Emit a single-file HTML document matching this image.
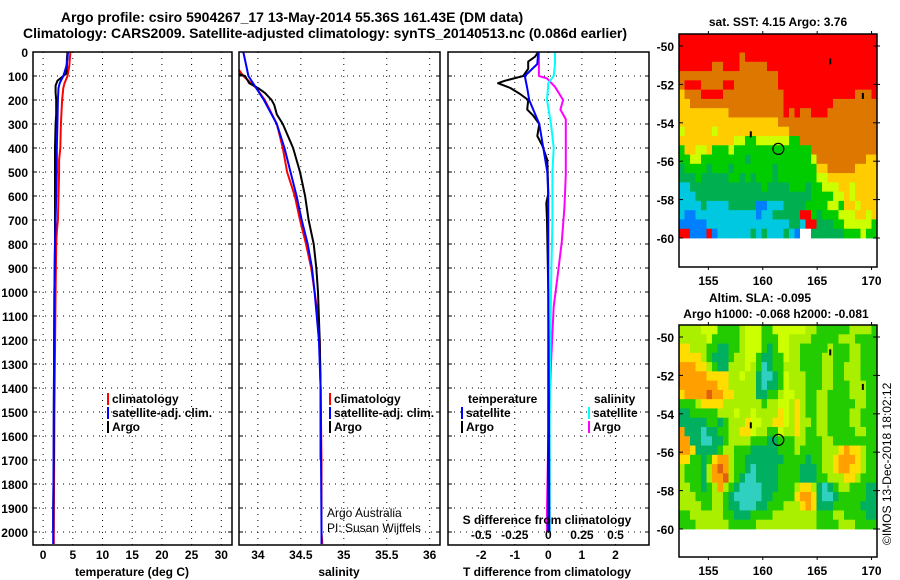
<!DOCTYPE html>
<html><head><meta charset="utf-8">
<style>
html,body{margin:0;padding:0;background:#fff;}
svg{display:block;font-family:"Liberation Sans",Arial,sans-serif;}
.b{font-weight:bold;font-size:12px;}
.t{font-weight:bold;font-size:14px;}
</style></head>
<body>
<svg id="fig" width="900" height="580" viewBox="0 0 900 580" xmlns="http://www.w3.org/2000/svg">
<rect width="900" height="580" fill="#fff"/>
<text class="t" x="292" y="22" text-anchor="middle">Argo profile: csiro 5904267_17 13-May-2014 55.36S 161.43E (DM data)</text>
<text class="t" x="325" y="38" text-anchor="middle" textLength="604">Climatology: CARS2009. Satellite-adjusted climatology: synTS_20140513.nc (0.086d earlier)</text>
<g id="panels"></g>
<g id="maps"></g>
<text x="891" y="545" font-size="12" transform="rotate(-90 891 545)">©IMOS 13-Dec-2018 18:02:12</text>
</svg>
<script>
// ---------- profile data ----------
const depthTicks = [0,100,200,300,400,500,600,700,800,900,1000,1100,1200,1300,1400,1500,1600,1700,1800,1900,2000];
const tempTicks = [0,5,10,15,20,25,30];
const salTicks = [34,34.5,35,35.5,36];
const salTickLabels = ["34","34.5","35","35.5","36"];
const tdiffTicks = [-2,-1,0,1,2];
const sdiffTicks = [-0.5,-0.25,0,0.25,0.5];
const sdiffTickLabels = ["-0.5","-0.25","0","0.25","0.5"];

const tClimDepth = [0,30,60,100,130,150,200,250,300,400,450,500,600,700,750,800,1000,1500,2000,2050];
const tClimVal   = [4.6,4.5,4.4,4.1,3.6,3.4,3.2,3.1,3.0,2.9,2.7,2.7,2.6,2.5,2.3,2.2,2.1,1.9,1.8,1.8];
const tSatDepth  = [0,30,60,100,130,150,200,300,400,500,600,700,800,1000,1500,2000,2050];
const tSatVal    = [4.2,4.1,3.9,3.4,2.8,2.6,2.5,2.4,2.3,2.3,2.2,2.1,2.0,1.9,1.8,1.7,1.7];
const tArgoDepth = [0,30,60,90,100,120,140,170,200,260,300,400,600,800,1000,1500,1700,1900,2000];
const tArgoVal   = [4.1,4.0,4.0,3.9,3.4,2.4,2.1,2.1,2.2,2.2,2.1,2.0,2.0,2.0,1.9,1.8,1.8,1.7,1.7];

const sClimDepth = [75,100,150,200,300,400,500,600,700,800,900,1000,1100,1200,1400,1700,2000,2050];
const sClimVal   = [33.78,33.83,33.98,34.08,34.22,34.29,34.34,34.43,34.49,34.56,34.62,34.66,34.70,34.72,34.73,34.74,34.74,34.75];
const sSatDepth  = [0,50,100,150,200,300,400,500,600,700,800,900,1000,1200,1400,2000,2050];
const sSatVal    = [33.83,33.86,33.89,33.98,34.07,34.22,34.31,34.38,34.45,34.51,34.58,34.63,34.66,34.71,34.73,34.74,34.74];
const sArgoDepth = [92,100,130,150,170,200,220,260,300,400,500,600,700,800,900,1000,1200,1400,1700];
const sArgoVal   = [33.78,33.85,33.90,34.00,34.08,34.16,34.19,34.22,34.29,34.41,34.49,34.55,34.59,34.65,34.68,34.70,34.72,34.73,34.73];

const dTArgoDepth = [0,20,40,70,100,120,130,150,175,200,240,265,300,350,390,450,590,630,700,1000,1500,2000];
const dTArgoVal   = [-0.3,-0.4,-0.6,-0.6,-0.75,-1.3,-1.5,-1.13,-0.84,-0.6,-0.63,-0.45,-0.27,-0.33,-0.18,-0.03,0.0,-0.06,-0.04,0.0,0.0,0.0];
const dTSatDepth  = [0,50,100,150,200,300,400,500,600,1000,1500,2000];
const dTSatVal    = [-0.3,-0.33,-0.7,-0.63,-0.57,-0.27,-0.15,-0.03,0.0,0.0,0.02,0.03];
const dSArgoDepth = [0,60,100,110,145,200,240,280,390,510,650,790,930,1060,1300,1600,1900,2000];
const dSArgoVal   = [-0.07,-0.07,-0.07,-0.01,0.05,0.11,0.09,0.13,0.13,0.13,0.12,0.10,0.07,0.04,0.02,0.0,-0.01,-0.01];
const dSSatDepth  = [0,50,100,130,200,300,400,500,700,1000,1500,2000];
const dSSatVal    = [0.05,0.05,0.04,0.0,-0.01,0.02,0.04,0.03,0.03,0.02,0.01,0.01];

// ---------- map data ----------
const sstRows = [
"RRRRRRRRRRRRRRRRRRRRRRRRRRRRRRRRRRRR",
"RRRRRRRRRRRRRRRRRRRRRRRRRRRRRRRRRRRR",
"RRRRRRRRRRRORRRRRRRRRRRRRRRRRRRRRRRR",
"RRRRRROORRROOOOORRRRRRRRRRRRRRRRRRRR",
"OOOOOOOOOOOOOOOOOORRRRRRRRRRRRRRRRRR",
"ORRROOOORROOOOOOOORRRRRRRRRRRRRRRRRR",
"YOOORRRROOOOOOOOOOORRRRRRRRRRRRROOOR",
"YYOOOOOOOOOOOOOOOOORRRRRRRRROOOOOOOO",
"YYYYYYYYYOOOOOOOOOOROROORRROOOOOOOOO",
"YYYYYYYYYYYYYYYYYYOOOOOOOOOOOOOOOOOO",
"LYYYYYLYYYYYYYYYYYYYOOOOOOOOOOOOOOOO",
"YYYYYYYYYYLLGGLLLLLLGGOOOOOOOOOOOOOO",
"GYYLLYGGGLGGGGGGGGGGGGGGOOOOOOOOOOOO",
"GGLLGGGGGGGGgGGGGGGGGGGGLOOOOOOOOOYY",
"gGGGGgGGGgGGGGGGGgGGGGGGGYYOOOOOYYYY",
"gggGgggggGGgGgGGGgGGGGGGGLLYYYYYYYYY",
"CCgggggggggggggGggggGGGgGGLLLYYLYYYY",
"CCCgggggggggggggggggggggGGGGLLYLYYYY",
"CCCCgCCCCgggggBBCCCggggGGGGLLGYYLYYY",
"CBBCCCCCCCCCCCBCCgggggRRGgGGGLLLYYLY",
"BBBBBCCCCCCCCCCCCCCCggCRRgggGGLLLLLG",
"RRBBBRBCCCCCCgCgCCCgCBWWggggggGGGLGG"];
const slaRows = [
"LLLLlllGGGGLlllGGllllllLLGGGGGGLLLLG",
"LLLLLlGGGGGLlllGGGllLLLLGGGGGLLLGGGG",
"YYLLLGGggGGLlllGgGllLLGGGGGLGGGLLGGG",
"YYYYLGgggGLLllGggGGlLLGGGGLLGGGLLGGG",
"OOOYYLGggLLLlLGCgGGLLLGGGGLLGGLLLGGG",
"OOOOOYYYYLLlLLgCCgGlLLLGGGLLGGLLLGGG",
"OOOOOOOYYLLLLLgCggGlLLLGGGLLGGGLLLGG",
"YOOOODOOYYLLLLggGGLllLLGGLLGGGGLLLGG",
"GGGLYYYYLLLLLLLGLLllLYLGGLLGGGGGLLGG",
"ggGGGGGLLLlLLlLLLLYlLYLGGLLGGGGLLGGG",
"gggggGGgGLLLYllLLYYlLYLLGLLGGGGLLGGG",
"OgggCggGGLLYYlLLGGlLLYLGGLLGGGGGLLGG",
"OOggCCggGLLLLGGGggGGGLLGGGLLGGGGGGGG",
"OOYggggGLLGGGgggggGGGLGGGGLLLYOYYLGG",
"YYGGgGYOOLGGgggggggGGGGgGGLLYOOOYLGG",
"LGGGgLODOLGGgCggggGGGGgggGLLYOOYYLGG",
"LGGGgLOODLGgCCggggGGGGgggGGLLLYYLGGG",
"LLGGgGLOLGgCCCCgggGGGLYYLgCgGLLGGGgg",
"LLLGGGLLGgCCCCCggGGGGYOOYgCCgGGGGGgg",
"LLLLGGLLGggCCCggGGGLLLYOYgggGGGGGggg",
"GGLLLLLLGGgggGGGGLLLLLLLLGGGLLGGGGgg",
"GGGLLLLLLGGGGGLLLLLLLLLLLGGGGLLLGGGG"];
const latTicks = [-50,-52,-54,-56,-58,-60];
const lonTicks = [155,160,165,170];
const argoLon = 161.43, argoLat = -55.36;
const floatLons = [166.2,169.2,158.9];
const floatLats = [-50.8,-52.6,-54.6];

const NS='http://www.w3.org/2000/svg';
function mk(tag,attrs,parent,txt){const e=document.createElementNS(NS,tag);for(const k in attrs)e.setAttribute(k,attrs[k]);if(txt!==undefined)e.textContent=txt;parent.appendChild(e);return e;}
const panels=document.getElementById('panels');
const TOP=52, PXM=0.24, BOT=545;
const yD=d=>TOP+d*PXM;

function panel(name,x0,x1,vmin,vmax){
  const g=mk('g',{},panels);
  
  
  const sx=v=>x0+(v-vmin)/(vmax-vmin)*(x1-x0);
  return {g,sx,x0,x1};
}
function grid(p,xt){
  depthTicks.forEach(d=>{
    const l=mk('line',{x1:p.x0,x2:p.x1,y1:yD(d),y2:yD(d),stroke:'#000','stroke-width':1,'stroke-dasharray':'1 5'},p.g);
    
    
    mk('line',{x1:p.x0,x2:p.x0+4,y1:yD(d),y2:yD(d),stroke:'#000'},p.g);
    mk('line',{x1:p.x1-4,x2:p.x1,y1:yD(d),y2:yD(d),stroke:'#000'},p.g);
  });
  xt.forEach(v=>{
    const l=mk('line',{x1:p.sx(v),x2:p.sx(v),y1:TOP,y2:BOT,stroke:'#000','stroke-width':1,'stroke-dasharray':'1 5'},p.g);
    
    
  });
}
function frame(p){
  const r=mk('rect',{x:p.x0,y:TOP,width:p.x1-p.x0,height:BOT-TOP,fill:'none',stroke:'#000','stroke-width':1.5},p.g);
  
  
}
function series(p,dep,val,color,name,w){
  const pts=dep.map((d,i)=>p.sx(val[i]).toFixed(1)+','+yD(d).toFixed(1)).join(' ');
  const l=mk('polyline',{points:pts,fill:'none',stroke:color,'stroke-width':w||2,'stroke-linejoin':'round'},p.g);
  
  
}
function xlabels(p,ticks,labels,y){
  ticks.forEach((v,i)=>{
    const t=mk('text',{x:p.sx(v),y:y,'text-anchor':'middle',class:'b'},p.g,labels?labels[i]:String(v));
    
    
  });
}
function legend(g,x,y,color,label){
  mk('rect',{x:x,y:y-10,width:2,height:12,fill:color},g);
  const t=mk('text',{x:x+5,y:y,class:'b'},g,label);
  
  
}

// panel 1 temperature
const p1=panel('temperature-panel',33,232,-1.7,31.8);
grid(p1,tempTicks);
depthTicks.forEach(d=>{const t=mk('text',{x:28,y:yD(d)+5,'text-anchor':'end',class:'b'},p1.g,String(d));

});
series(p1,tClimDepth,tClimVal,'#ff0000','temp-climatology-line');
series(p1,tArgoDepth,tArgoVal,'#000','temp-argo-line');
series(p1,tSatDepth,tSatVal,'#0000ff','temp-satellite-line');
frame(p1);
xlabels(p1,tempTicks,null,559);
let t=mk('text',{x:132,y:576,'text-anchor':'middle',class:'b'},p1.g,'temperature (deg C)');


legend(p1.g,107,403,'#ff0000','climatology');
legend(p1.g,107,417,'#0000ff','satellite-adj. clim.');
legend(p1.g,107,431,'#000','Argo');

// panel 2 salinity
const p2=panel('salinity-panel',239,440,33.78,36.12);
grid(p2,salTicks);
series(p2,sClimDepth,sClimVal,'#ff0000','sal-climatology-line');
series(p2,sArgoDepth,sArgoVal,'#000','sal-argo-line');
series(p2,sSatDepth,sSatVal,'#0000ff','sal-satellite-line');
frame(p2);
xlabels(p2,salTicks,salTickLabels,559);
t=mk('text',{x:339,y:576,'text-anchor':'middle',class:'b'},p2.g,'salinity');


legend(p2.g,329,403,'#ff0000','climatology');
legend(p2.g,329,417,'#0000ff','satellite-adj. clim.');
legend(p2.g,329,431,'#000','Argo');
t=mk('text',{x:327,y:517,'font-size':'12'},p2.g,'Argo Australia');


t=mk('text',{x:327,y:532,'font-size':'12'},p2.g,'PI: Susan Wijffels');



// panel 3 differences
const p3=panel('difference-panel',448,649,-2.99,3.0);
const sxS=v=>p3.sx(v*4);
grid(p3,tdiffTicks);
series(p3,dSArgoDepth,dSArgoVal.map(v=>v*4),'#ff00ff','sdiff-argo-line');
series(p3,dSSatDepth,dSSatVal.map(v=>v*4),'#00ffff','sdiff-satellite-line');
series(p3,dTArgoDepth,dTArgoVal,'#000','tdiff-argo-line');
series(p3,dTSatDepth,dTSatVal,'#0000ff','tdiff-satellite-line');
frame(p3);
xlabels(p3,tdiffTicks,null,559);
t=mk('text',{x:547,y:576,'text-anchor':'middle',class:'b'},p3.g,'T difference from climatology');


t=mk('text',{x:547,y:524,'text-anchor':'middle',class:'b'},p3.g,'S difference from climatology');


sdiffTicks.forEach((v,i)=>{const e=mk('text',{x:sxS(v),y:539,'text-anchor':'middle',class:'b'},p3.g,sdiffTickLabels[i]);

});
t=mk('text',{x:468,y:403,class:'b'},p3.g,'temperature');


t=mk('text',{x:594,y:403,class:'b'},p3.g,'salinity');


legend(p3.g,461,417,'#0000ff','satellite');
legend(p3.g,461,431,'#000','Argo');
legend(p3.g,588,417,'#00ffff','satellite');
legend(p3.g,588,431,'#ff00ff','Argo');

// ---------- maps ----------
const maps=document.getElementById('maps');
const sstColors={R:'#ff0000',O:'#dd7700',Y:'#ffcc00',L:'#ccff00',G:'#00cc00',g:'#00b050',C:'#00c8e0',B:'#0080ff',W:'#ffffff'};
const slaColors={G:'#22cc00',g:'#00b060',C:'#30d0c0',L:'#aaee00',l:'#ccff00',Y:'#ffdd00',O:'#ffa000',D:'#e06010'};
function drawMap(name,rows,colors,fx0,fy0,fx1,fy1,titleLines){
  const g=mk('g',{},maps);
  
  
  const lon0=152.3,lon1=170.5,latTop=-49.3,latBot=fy0+(fy1-fy0)>0?0:0;
  const pxLon=(fx1-fx0)/(lon1-lon0);
  const lat50y=fy0+12, pxLat=19.2;
  const sx=lo=>fx0+(lo-lon0)*pxLon;
  const sy=la=>lat50y+(-50-la)*pxLat;
  const yTop=sy(latTop), yBot=sy(-60);
  const nr=rows.length, nc=rows[0].length;
  const cw=(fx1-fx0)/nc, ch=(yBot-fy0)/nr;
  rows.forEach((row,r)=>{
    for(let c=0;c<nc;c++){
      const cell=mk('rect',{x:(fx0+c*cw).toFixed(2),y:(fy0+r*ch).toFixed(2),width:(cw+0.4).toFixed(2),height:(ch+0.4).toFixed(2),fill:colors[row[c]]},g);
      
      
    }
  });
  const fr=mk('rect',{x:fx0,y:fy0,width:fx1-fx0,height:fy1-fy0,fill:'none',stroke:'#000','stroke-width':1.5},g);
  
  
  latTicks.forEach(la=>{
    mk('line',{x1:fx0,x2:fx0+4,y1:sy(la),y2:sy(la),stroke:'#000'},g);
    mk('line',{x1:fx1-4,x2:fx1+3,y1:sy(la),y2:sy(la),stroke:'#000'},g);
    const e=mk('text',{x:fx0-5,y:sy(la)+5,'text-anchor':'end',class:'b'},g,String(la));
    
    
  });
  lonTicks.forEach(lo=>{
    mk('line',{x1:sx(lo),x2:sx(lo),y1:fy0,y2:fy0-3,stroke:'#000'},g);
    mk('line',{x1:sx(lo),x2:sx(lo),y1:fy1,y2:fy1+3,stroke:'#000'},g);
    const e=mk('text',{x:sx(lo),y:fy1+18,'text-anchor':'middle',class:'b'},g,String(lo));
    
    
  });
  const circ=mk('circle',{cx:sx(argoLon),cy:sy(argoLat),r:5.5,fill:'none',stroke:'#000','stroke-width':1.2},g);
  
  
  floatLons.forEach((lo,i)=>{
    const m=mk('rect',{x:sx(lo)-1,y:sy(floatLats[i])-3,width:2,height:6,fill:'#000'},g);
    
    
  });
  titleLines.forEach(tl=>{
    const e=mk('text',{x:tl[0],y:tl[1],'text-anchor':'middle',class:'b'},g,tl[2]);
    
    
  });
}
drawMap('sst-map',sstRows,sstColors,679,34,877,267,[[778,26,'sat. SST: 4.15 Argo: 3.76']]);
drawMap('sla-map',slaRows,slaColors,679,325,877,557,[[760,302,'Altim. SLA: -0.095'],[776,318,'Argo h1000: -0.068 h2000: -0.081']]);
</script>
</body></html>
